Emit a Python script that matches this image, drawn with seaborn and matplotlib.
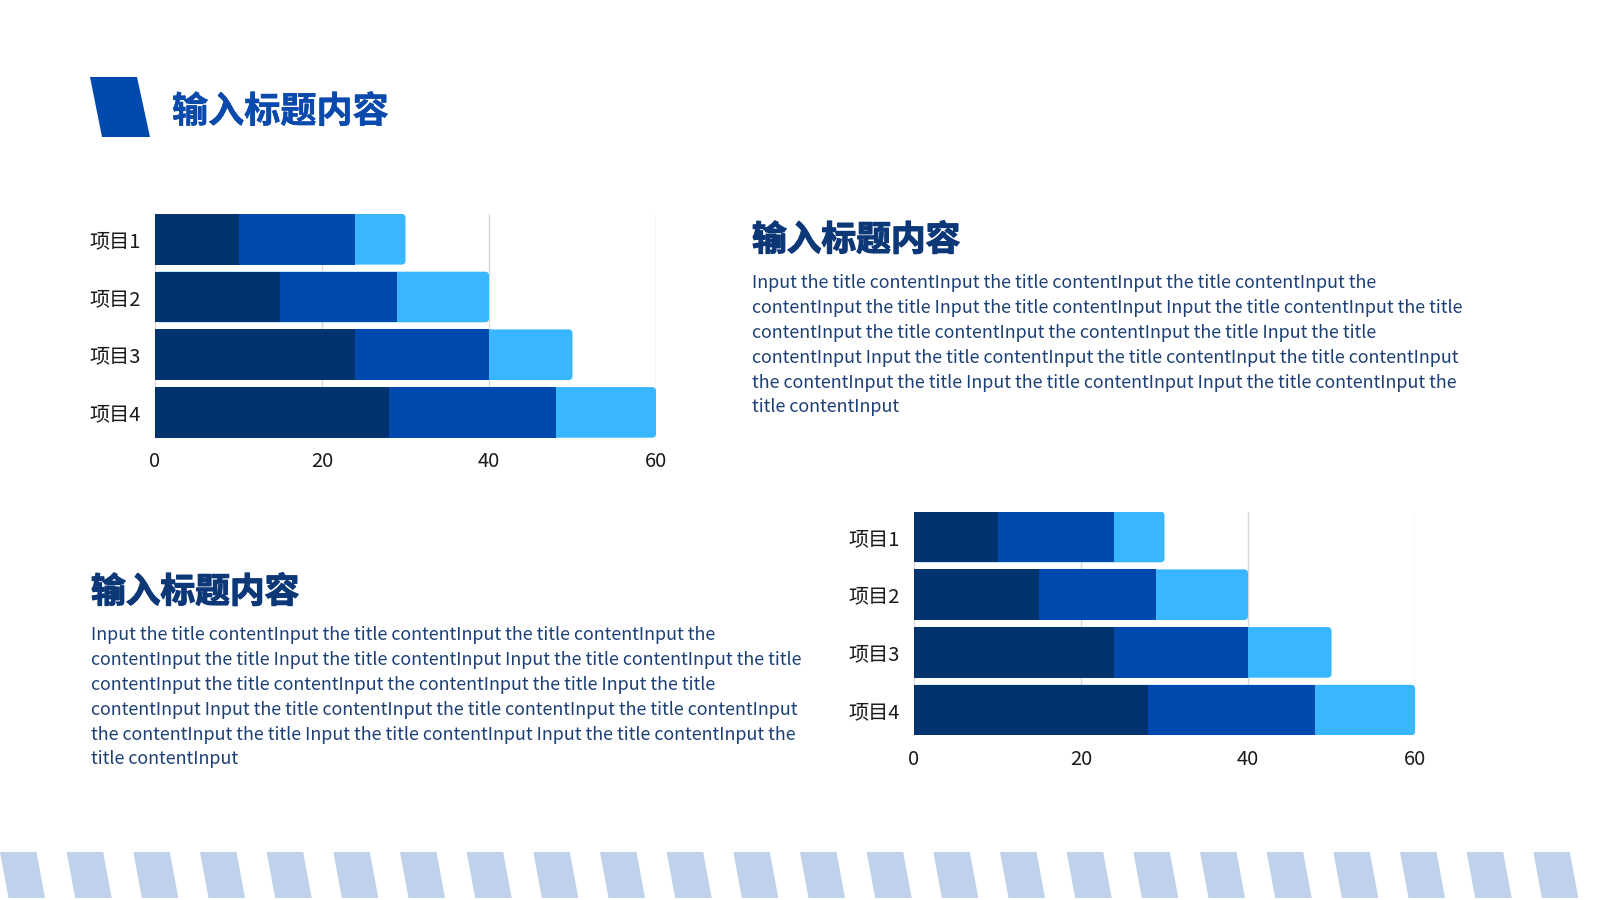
import matplotlib
matplotlib.use('Agg')
import matplotlib.pyplot as plt
from matplotlib.patches import Polygon, FancyBboxPatch
import matplotlib.patheffects as pe
import seaborn as sns
import pandas as pd

# data
items = ['项目1', '项目2', '项目3', '项目4']
part1 = [10, 15, 24, 28]
part2 = [14, 14, 16, 20]
part3 = [6, 11, 10, 12]
x_ticks = [0, 20, 40, 60]

title = '输入标题内容'
body_lines = [
    'Input the title contentInput the title contentInput the title contentInput the',
    'contentInput the title Input the title contentInput Input the title contentInput the title',
    'contentInput the title contentInput the contentInput the title Input the title',
    'contentInput Input the title contentInput the title contentInput the title contentInput',
    'the contentInput the title Input the title contentInput Input the title contentInput the',
    'title contentInput',
]

DARK = '#03336f'
MID = '#004aad'
LIGHT = '#38b6ff'
TITLE_BLUE = '#0a4aac'
NAVY = '#0c3878'
BODY = '#1c3f76'
STRIPE = '#bfd1eb'

sns.set_theme(style='white')
plt.rcParams['font.family'] = ['Noto Sans CJK SC', 'DejaVu Sans']

df = pd.DataFrame({'item': items, 'p1': part1, 'p2': part2, 'p3': part3})
df['c2'] = df['p1'] + df['p2']
df['c3'] = df['c2'] + df['p3']

W, H = 1600, 900
fig = plt.figure(figsize=(16, 9), dpi=100)
fig.patch.set_facecolor('white')

# background axes in pixel coordinates for shapes and text
bg = fig.add_axes([0, 0, 1, 1])
bg.set_xlim(0, W)
bg.set_ylim(H, 0)
bg.axis('off')

# title block
bg.add_patch(Polygon([(90, 77), (137, 77), (150, 137), (102, 137)],
                     closed=True, color=MID, lw=0))
bg.text(172, 112, title, fontsize=26, fontweight='bold', color=TITLE_BLUE,
        va='center', ha='left',
        path_effects=[pe.withStroke(linewidth=0.4, foreground=TITLE_BLUE)])

# bottom stripes
step = W / 24
for k in range(24):
    x0 = k * step
    bg.add_patch(Polygon([(x0, 852), (x0 + 36.5, 852), (x0 + 45, 898), (x0 + 8.5, 898)],
                         closed=True, color=STRIPE, lw=0))


def text_block(x, y_title, y_first):
    bg.text(x, y_title, title, fontsize=25, fontweight='heavy', color=NAVY,
            va='center', ha='left',
            path_effects=[pe.withStroke(linewidth=0.9, foreground=NAVY)])
    for i, line in enumerate(body_lines):
        bg.text(x, y_first + i * 24.9, line, fontsize=12.9, color=BODY,
                va='center', ha='left')


text_block(752, 240, 283)
text_block(91, 592, 635)

bar_w = 0.877
pitch = 57.7
ax_h = pitch * (3 + bar_w)


def stacked_chart(left_px, top_px):
    width_px = 501
    ax = fig.add_axes([left_px / W, 1 - (top_px + ax_h) / H, width_px / W, ax_h / H])
    ax.set_facecolor('none')
    sns.barplot(data=df, y='item', x='c3', color=LIGHT, width=bar_w, ax=ax,
                orient='h', saturation=1, linewidth=0)
    n_light = len(ax.patches)
    sns.barplot(data=df, y='item', x='c2', color=MID, width=bar_w, ax=ax,
                orient='h', saturation=1, linewidth=0)
    sns.barplot(data=df, y='item', x='p1', color=DARK, width=bar_w, ax=ax,
                orient='h', saturation=1, linewidth=0)
    bars = list(ax.patches)
    for p in bars[n_light:]:
        p.set_zorder(2)
    # round the outer end of each full-length bar
    for p in bars[:n_light]:
        x, y = p.get_x(), p.get_y()
        w, h = p.get_width(), p.get_height()
        p.set_visible(False)
        ax.add_patch(FancyBboxPatch((x, y), w, h,
                                    boxstyle='round,pad=0,rounding_size=0.48',
                                    mutation_aspect=0.144, fc=LIGHT, ec='none',
                                    lw=0, zorder=1.5))
    ax.set_xlim(0, 60)
    ax.set_ylim(3 + bar_w / 2, -bar_w / 2)
    ax.set_xticks(x_ticks)
    ax.set_xticklabels([str(v) for v in x_ticks])
    ax.set_xlabel('')
    ax.set_ylabel('')
    for s in ax.spines.values():
        s.set_visible(False)
    ax.grid(axis='x', color='#d9d9d9', lw=1, zorder=0)
    ax.set_axisbelow(True)
    ax.tick_params(axis='both', length=0, labelsize=14.5, colors='#1a1a1a')
    ax.tick_params(axis='y', pad=10)
    ax.tick_params(axis='x', pad=9.5)
    return ax


stacked_chart(155, 214)
stacked_chart(914, 511.7)

fig.savefig('out.png', dpi=100, facecolor='white')
